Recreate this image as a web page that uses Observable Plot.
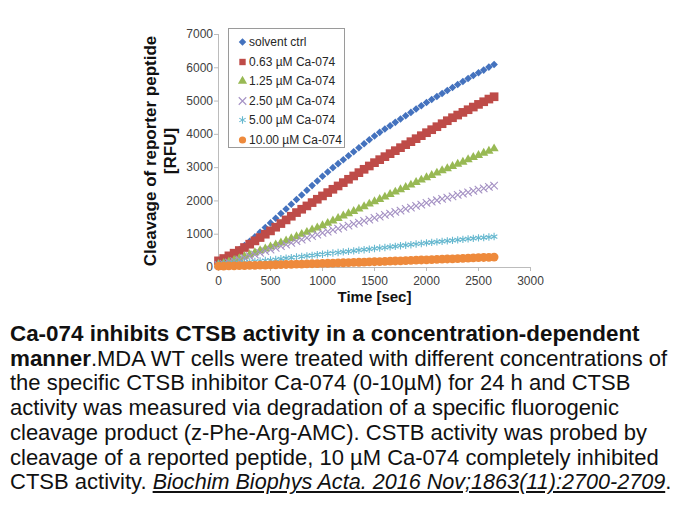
<!DOCTYPE html>
<html>
<head>
<meta charset="utf-8">
<script src="https://cdn.jsdelivr.net/npm/d3@7"></script>
<script src="https://cdn.jsdelivr.net/npm/@observablehq/plot@0.6"></script>
<style>
  html, body { margin: 0; padding: 0; background: #fff; }
  body { width: 680px; height: 510px; position: relative; overflow: hidden; font-family: "Liberation Sans", Arial, sans-serif; }
  #chart { position: absolute; left: 0; top: 0; }
  #legend { position: absolute; left: 228px; top: 28px; width: 117px; height: 120px; border: 1px solid #9a9a9a; background: #fff; box-sizing: border-box; }
  .lrow { position: absolute; left: 0; height: 18px; display: flex; align-items: center; font-size: 12px; color: #262626; white-space: nowrap; }
  .lrow svg { margin-left: 8px; margin-right: 1px; }
  #caption { position: absolute; left: 10px; top: 322px; font-size: 22px; line-height: 24.7px; color: #111; white-space: nowrap; }
  #caption b { font-size: 22.4px; }
  #caption a { color: #111; font-style: italic; text-decoration: underline; font-size: 21.6px; }
</style>
</head>
<body>
<div id="chart"></div>
<div id="legend"></div>
<div id="caption">
<b>Ca-074 inhibits CTSB activity in a concentration-dependent</b><br>
<b>manner</b>.MDA WT cells were treated with different concentrations of<br>
the specific CTSB inhibitor Ca-074 (0-10µM) for 24 h and CTSB<br>
activity was measured via degradation of a specific fluorogenic<br>
cleavage product (z-Phe-Arg-AMC). CSTB activity was probed by<br>
cleavage of a reported peptide, 10 µM Ca-074 completely inhibited<br>
CTSB activity. <a>Biochim Biophys Acta. 2016 Nov;1863(11):2700-2709</a>.
</div>
<script>
// ---- data ----
const times = [0,50,100,150,200,250,300,350,400,450,500,550,600,650,700,750,800,850,900,950,1000,1050,1100,1150,1200,1250,1300,1350,1400,1450,1500,1550,1600,1650,1700,1750,1800,1850,1900,1950,2000,2050,2100,2150,2200,2250,2300,2350,2400,2450,2500,2550,2600,2650];

const solventCtrl = [120,210,310,420,540,660,790,920,1060,1200,1340,1480,1620,1760,1900,2040,2180,2320,2460,2600,2740,2870,3000,3120,3240,3360,3480,3600,3720,3840,3950,4060,4160,4260,4360,4460,4560,4660,4760,4860,4960,5050,5140,5230,5320,5410,5500,5590,5680,5770,5850,5930,6020,6100];
const ca063 = [200,270,350,430,510,600,700,800,900,1000,1100,1210,1320,1430,1540,1650,1750,1850,1950,2050,2150,2250,2350,2450,2550,2650,2750,2850,2950,3050,3150,3240,3330,3420,3510,3600,3690,3780,3870,3960,4050,4140,4230,4320,4410,4500,4580,4660,4740,4820,4900,4980,5060,5130];
const ca125 = [100,130,170,220,270,330,390,450,510,560,620,680,740,800,870,930,1000,1060,1130,1190,1260,1330,1400,1480,1550,1620,1690,1760,1830,1910,1980,2050,2120,2200,2270,2340,2410,2480,2560,2630,2700,2770,2840,2910,2970,3040,3110,3170,3240,3310,3370,3440,3500,3570];
const ca250 = [80,110,150,190,240,290,340,390,440,490,540,590,640,690,740,790,840,890,940,990,1040,1080,1130,1170,1220,1260,1310,1350,1400,1440,1490,1530,1580,1620,1670,1710,1760,1800,1850,1890,1940,1980,2020,2060,2100,2140,2180,2220,2260,2300,2340,2380,2420,2460];
const ca500 = [100,110,120,130,140,150,165,180,195,210,225,240,260,280,295,315,330,350,365,385,400,420,435,450,470,485,500,520,535,550,570,585,600,620,635,655,670,685,705,720,740,755,770,785,800,815,830,845,860,875,890,900,915,930];
const ca1000 = [40,43,47,50,54,58,62,66,70,74,78,82,86,90,95,99,104,108,113,117,122,127,132,137,142,147,152,157,162,168,173,179,184,190,196,202,208,214,220,226,232,238,244,250,256,262,268,275,281,288,294,301,307,314];

const seriesNames = ["solvent ctrl","0.63 µM Ca-074","1.25 µM Ca-074","2.50 µM Ca-074","5.00 µM Ca-074","10.00 µM Ca-074"];
const seriesValues = [solventCtrl, ca063, ca125, ca250, ca500, ca1000];
const xTicks = [0,500,1000,1500,2000,2500,3000];
const yTicks = [0,1000,2000,3000,4000,5000,6000,7000];

// ---- styles ----
const styles = [
  {symbol: "diamond2", color: "#4472BE", filled: true,  r: 3.4},
  {symbol: "square",   color: "#BE4B48", filled: true,  r: 4.9},
  {symbol: "triangle", color: "#98B954", filled: true,  r: 3.4},
  {symbol: "times",    color: "#A592C4", filled: false, r: 3.5},
  {symbol: "asterisk", color: "#66B8CF", filled: false, r: 3.5},
  {symbol: "circle",   color: "#EE8A3C", filled: true,  r: 4.4}
];

const rows = seriesNames.map((name, i) => times.map((t, j) => ({series: name, time: t, value: seriesValues[i][j]})));

const marks = [];
rows.forEach((data, i) => {
  const s = styles[i];
  marks.push(Plot.dot(data, {
    x: "time", y: "value", symbol: () => s.symbol, r: s.r,
    fill: s.filled ? s.color : "none",
    stroke: s.filled ? "none" : s.color,
    strokeWidth: s.filled ? 0 : 1.1
  }));
});

const chart = Plot.plot({
  width: 680, height: 312,
  marginLeft: 218, marginRight: 150, marginTop: 34, marginBottom: 45,
  style: {fontFamily: "'Liberation Sans', Arial, sans-serif", fontSize: "12px", background: "#fff"},
  x: {domain: [0, 3000]},
  y: {domain: [0, 7000]},
  symbol: {type: "identity"},
  marks: [
    Plot.axisX({ticks: xTicks, tickFormat: d3.format("d"), tickSize: 4, tickPadding: 4.5, stroke: "#bcbcbc", fill: "#404040", label: null, fontSize: 12}),
    Plot.axisY({ticks: yTicks, tickFormat: d3.format("d"), tickSize: 4, tickPadding: 1.5, stroke: "#bcbcbc", fill: "#404040", label: null, fontSize: 12}),
    Plot.ruleX([0], {stroke: "#bcbcbc"}),
    Plot.ruleY([0], {stroke: "#bcbcbc"}),
    ...marks,
    Plot.text(["Time [sec]"], {frameAnchor: "bottom", dy: 34, textAnchor: "middle", fontWeight: "bold", fontSize: 15, fill: "#111"}),
    Plot.text(["Cleavage of reporter peptide"], {frameAnchor: "left", dx: -68, rotate: -90, textAnchor: "middle", fontWeight: "bold", fontSize: 17, fill: "#111"}),
    Plot.text(["[RFU]"], {frameAnchor: "left", dx: -48, rotate: -90, textAnchor: "middle", fontWeight: "bold", fontSize: 17, fill: "#111"})
  ]
});
document.getElementById("chart").appendChild(chart);

// ---- legend ----
const legend = document.getElementById("legend");
const symMap = {diamond2: d3.symbolDiamond2, square: d3.symbolSquare, triangle: d3.symbolTriangle, times: d3.symbolTimes, asterisk: d3.symbolAsterisk, circle: d3.symbolCircle};
seriesNames.forEach((name, i) => {
  const s = styles[i];
  const row = document.createElement("div");
  row.className = "lrow";
  row.style.top = (4 + i * 19.5) + "px";
  const rr = Math.min(s.r, 3.6);
  const path = d3.symbol(symMap[s.symbol], Math.PI * rr * rr)();
  row.innerHTML = `<svg width="11" height="12" viewBox="-5.5 -6 11 12"><path d="${path}" fill="${s.filled ? s.color : "none"}" stroke="${s.filled ? "none" : s.color}" stroke-width="1.1"/></svg><span>${name}</span>`;
  legend.appendChild(row);
});
</script>
</body>
</html>
